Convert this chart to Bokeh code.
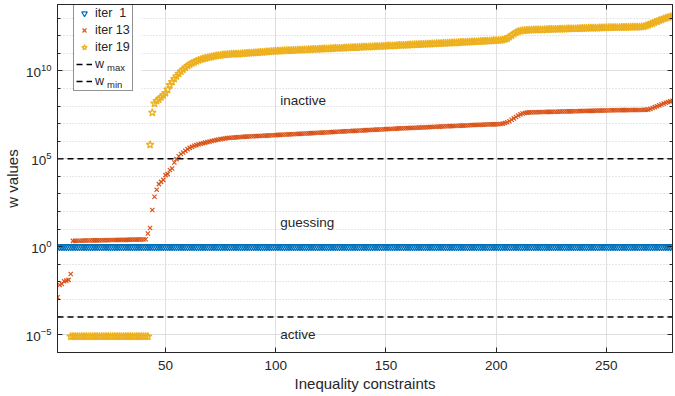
import numpy as np
from bokeh.plotting import figure
from bokeh.models import (Range1d, FixedTicker, LinearAxis, Label, BoxAnnotation,
                          Legend, LegendItem, CustomJSTickFormatter)
from bokeh.embed import file_html
from bokeh.resources import INLINE

# ---------------- data ----------------
n_constraints = 280
iter1_values = [1.0] * n_constraints

# iter 13: log10(w) for constraints 1..280
iter13_log10 = [
    -2.88, -2.18, -2.12, -1.97, -1.93, -1.89, -1.55,
    0.33, 0.33, 0.34, 0.34, 0.34, 0.35, 0.35, 0.35, 0.35, 0.36,
    0.36, 0.36, 0.36, 0.37, 0.37, 0.37, 0.37, 0.38, 0.38, 0.38,
    0.38, 0.39, 0.39, 0.39, 0.39, 0.39, 0.40, 0.40, 0.40, 0.40,
    0.41, 0.41, 0.41, 0.42,
    0.75, 1.06, 2.09, 2.84, 3.24, 3.56, 3.69, 3.80, 4.07, 4.13,
    4.36, 4.45, 4.79, 4.98, 5.15, 5.27, 5.36, 5.45, 5.55, 5.62,
    5.68, 5.74, 5.78, 5.82, 5.86, 5.89, 5.92, 5.95, 5.98, 6.01,
    6.04, 6.07, 6.09, 6.12, 6.14, 6.16, 6.18, 6.19, 6.20, 6.21,
    6.22, 6.23, 6.24,
    6.25, 6.26, 6.26, 6.27, 6.28, 6.28, 6.29, 6.30, 6.30, 6.31,
    6.32, 6.32, 6.33, 6.34, 6.34, 6.35, 6.36, 6.36, 6.37, 6.38,
    6.38, 6.39, 6.40, 6.40, 6.41, 6.42, 6.42, 6.43, 6.44, 6.44,
    6.45, 6.46, 6.46, 6.47, 6.48, 6.48, 6.49, 6.50, 6.50, 6.51,
    6.52, 6.53, 6.53, 6.54, 6.55, 6.55, 6.56, 6.57, 6.57, 6.58,
    6.59, 6.59, 6.60, 6.61, 6.61, 6.62, 6.63, 6.63, 6.64, 6.65,
    6.65, 6.66, 6.67, 6.67, 6.68, 6.69,
    6.70, 6.70, 6.71, 6.71, 6.72, 6.73, 6.73, 6.74, 6.74, 6.75,
    6.75, 6.76, 6.77, 6.77, 6.78, 6.78, 6.79, 6.79, 6.80, 6.81,
    6.81, 6.82, 6.82, 6.83, 6.84, 6.84, 6.85, 6.85, 6.86, 6.86,
    6.87, 6.88, 6.88, 6.89, 6.89, 6.90, 6.90, 6.91, 6.92, 6.92,
    6.93, 6.93, 6.94, 6.94, 6.95, 6.95, 6.96, 6.96, 6.96, 6.97,
    6.97, 6.98,
    7.00, 7.04, 7.08, 7.14, 7.22, 7.30, 7.38, 7.46, 7.53, 7.58, 7.61, 7.63,
    7.64, 7.64, 7.65, 7.65, 7.65, 7.66, 7.66, 7.66, 7.67, 7.67,
    7.67, 7.68, 7.68, 7.68, 7.69, 7.69, 7.69, 7.70, 7.70, 7.70,
    7.71, 7.71, 7.71, 7.72, 7.72, 7.72, 7.73, 7.73, 7.73, 7.73,
    7.74, 7.74, 7.74, 7.75, 7.75, 7.75, 7.75, 7.76, 7.76, 7.76,
    7.76, 7.77, 7.77, 7.77, 7.77, 7.77, 7.78, 7.78, 7.78, 7.78,
    7.78, 7.78, 7.79, 7.79,
    7.80, 7.84, 7.89, 7.94, 7.99, 8.04, 8.09, 8.14, 8.19, 8.23, 8.27, 8.30,
]

# iter 19: log10(w) for constraints 7..280
iter19_first = 7
iter19_log10 = [-5.11] * 36 + [
    5.80, 7.63, 8.15, 8.30, 8.39, 8.50, 8.62, 8.75, 8.95, 9.20,
    9.38, 9.55, 9.70, 9.84, 9.97, 10.08, 10.19, 10.29, 10.37, 10.44,
    10.50, 10.56, 10.61, 10.65, 10.69, 10.72, 10.75, 10.78, 10.81, 10.84,
    10.86, 10.88, 10.90, 10.92, 10.93, 10.94, 10.95, 10.96, 10.96, 10.97,
    10.97, 10.98,
    10.99, 11.00, 11.01, 11.02, 11.03, 11.04, 11.04, 11.05, 11.06, 11.07,
    11.08, 11.09, 11.10, 11.11, 11.12, 11.13,
    11.14, 11.14, 11.15, 11.16, 11.16, 11.17, 11.17, 11.18, 11.18, 11.19,
    11.20, 11.20, 11.21, 11.21, 11.22, 11.22, 11.23, 11.24, 11.24, 11.25,
    11.25, 11.26, 11.26, 11.27, 11.28, 11.28, 11.29, 11.29, 11.30, 11.30,
    11.31, 11.32, 11.32, 11.33, 11.33, 11.34, 11.34, 11.35, 11.36, 11.36,
    11.37, 11.37, 11.38, 11.38, 11.39, 11.40, 11.40, 11.41, 11.41, 11.42,
    11.43, 11.43, 11.44, 11.44, 11.45, 11.46, 11.46, 11.47, 11.47, 11.48,
    11.49, 11.49, 11.50, 11.50, 11.51, 11.52, 11.52, 11.53, 11.53, 11.54,
    11.55, 11.55, 11.56, 11.56, 11.57, 11.58, 11.58, 11.59, 11.59, 11.60,
    11.61, 11.61, 11.62, 11.63, 11.63, 11.64, 11.65, 11.65, 11.66, 11.67,
    11.67, 11.68, 11.69, 11.69, 11.70, 11.71, 11.71, 11.72, 11.73, 11.73,
    11.74, 11.75,
    11.77, 11.80, 11.85, 11.93, 12.02, 12.11, 12.19, 12.25, 12.28, 12.30, 12.31, 12.32,
    12.33, 12.33, 12.34, 12.34, 12.35, 12.35, 12.35, 12.36, 12.36, 12.37,
    12.37, 12.37, 12.38, 12.38, 12.39, 12.39, 12.39, 12.40, 12.40, 12.41,
    12.41, 12.41, 12.42, 12.42, 12.43, 12.43, 12.43, 12.44, 12.44, 12.45,
    12.45, 12.45, 12.46, 12.46, 12.46, 12.47, 12.47, 12.47, 12.48, 12.48,
    12.48, 12.48, 12.49, 12.49, 12.49, 12.49, 12.50, 12.50, 12.50, 12.50,
    12.50, 12.51,
    12.53, 12.57, 12.62, 12.67, 12.72, 12.77, 12.82, 12.87, 12.92, 12.97,
    13.01, 13.05, 13.08, 13.11,
]

w_max = 1e5
w_min = 1e-4

x_ticks = [50, 100, 150, 200, 250]
y_major_ticks = [1e-5, 1e0, 1e5, 1e10]
y_minor_exponents = list(range(-6, 14))

series_labels = ["iter  1", "iter 13", "iter 19"]
series_colors = ["#0072BD", "#D95319", "#EDB120"]

region_texts = ["inactive", "guessing", "active"]
region_text_x = [102, 102, 102]
region_text_y = [10 ** 8.3, 10 ** 1.36, 10 ** -5.0]

# ---------------- derived arrays ----------------
x1 = np.arange(1, len(iter1_values) + 1)
x13 = np.arange(1, len(iter13_log10) + 1)
w13 = 10.0 ** np.array(iter13_log10)
x19 = np.arange(iter19_first, iter19_first + len(iter19_log10))
w19 = 10.0 ** np.array(iter19_log10)

FONT = "Liberation Sans"
AX = "#262626"

p = figure(width=675, height=396, y_axis_type="log",
           x_range=Range1d(1, 280), y_range=Range1d(10 ** -6.02, 10 ** 13.78),
           output_backend="svg", toolbar_location=None,
           min_border_left=10, min_border_right=0, min_border_top=0,
           min_border_bottom=44)
p.background_fill_color = "white"
p.border_fill_color = "white"
p.outline_line_color = AX
p.outline_line_width = 1

yticker = FixedTicker(ticks=y_major_ticks,
                      minor_ticks=[10.0 ** k for k in y_minor_exponents])
xticker = FixedTicker(ticks=x_ticks)

p.xaxis.ticker = xticker
p.yaxis.ticker = yticker
p.xgrid.ticker = xticker
p.ygrid.ticker = yticker

for ax in (p.xaxis[0], p.yaxis[0]):
    ax.major_tick_in = 5
    ax.major_tick_out = 0
    ax.minor_tick_in = 3
    ax.minor_tick_out = 0
    ax.axis_line_color = AX
    ax.major_tick_line_color = AX
    ax.minor_tick_line_color = AX
    ax.major_label_text_font = FONT
    ax.major_label_text_font_size = "13.5px"
    ax.major_label_text_color = AX
    ax.axis_label_text_font = FONT
    ax.axis_label_text_font_size = "15px"
    ax.axis_label_text_font_style = "normal"
    ax.axis_label_text_color = AX

p.xaxis.axis_label = "Inequality constraints"
p.yaxis.axis_label = "w values"
p.xaxis.major_label_standoff = 8
p.xaxis.axis_label_standoff = 2
p.yaxis.major_label_standoff = 6
p.yaxis.axis_label_standoff = 2

# box-style frame ticks on top and right (labels blank)
blank = CustomJSTickFormatter(code="return ' ';")
top_ax = LinearAxis(ticker=xticker, formatter=blank,
                    major_label_text_font_size="1px",
                    major_label_standoff=0, major_tick_in=5, major_tick_out=0,
                    minor_tick_out=0, axis_line_color=AX, major_tick_line_color=AX)
right_ax = LinearAxis(ticker=yticker, formatter=blank,
                      major_label_text_font_size="1px",
                      major_label_standoff=0, major_tick_in=5, major_tick_out=0,
                      minor_tick_in=3, minor_tick_out=0, axis_line_color=AX,
                      major_tick_line_color=AX, minor_tick_line_color=AX)
p.add_layout(top_ax, "above")
p.add_layout(right_ax, "right")

p.xgrid.grid_line_color = "#dfdfdf"
p.ygrid.grid_line_color = "#dfdfdf"
p.ygrid.minor_grid_line_color = "#cfcfcf"
p.ygrid.minor_grid_line_dash = "1 2"

# white backdrop for the legend (legend itself is transparent so that the
# subscript labels drawn inside it stay visible)
p.add_layout(BoxAnnotation(left=16.5, right=84, bottom=261.5, top=347.5,
                           left_units="screen", right_units="screen",
                           bottom_units="screen", top_units="screen",
                           fill_color="white", fill_alpha=1, line_color=None,
                           level="underlay"))

# data
r1 = p.scatter(x1, iter1_values, marker="inverted_triangle", size=7,
               line_color=series_colors[0], fill_color=None, line_width=1.2)
r13 = p.scatter(x13, w13, marker="x", size=6, line_color=series_colors[1],
                line_width=1.2)
r19 = p.scatter(x19, w19, marker="star", size=8, line_color=series_colors[2],
                fill_color=None, line_width=1.3)

rmax = p.line(x1, [w_max] * len(x1), line_color="black",
              line_dash="6 4", line_width=1.5)
rmin = p.line(x1, [w_min] * len(x1), line_color="black",
              line_dash="6 4", line_width=1.5)

legend = Legend(items=[
    LegendItem(label=series_labels[0], renderers=[r1]),
    LegendItem(label=series_labels[1], renderers=[r13]),
    LegendItem(label=series_labels[2], renderers=[r19]),
    LegendItem(label="w", renderers=[rmax]),
    LegendItem(label="w", renderers=[rmin]),
], location=(16, 261))
legend.border_line_color = AX
legend.border_line_width = 1
legend.background_fill_alpha = 0
legend.label_text_font = FONT
legend.label_text_font_size = "12.5px"
legend.label_text_color = AX
legend.glyph_width = 16
legend.glyph_height = 14
legend.label_height = 15
legend.label_standoff = 3
legend.spacing = 2
legend.padding = 2
legend.margin = 0
p.add_layout(legend)

for t, tx, ty in zip(region_texts, region_text_x, region_text_y):
    p.add_layout(Label(x=tx, y=ty, text=t, text_baseline="middle",
                       text_font=FONT, text_font_size="13.5px", text_color=AX))

for sub, yy in (("max", 285), ("min", 268)):
    p.add_layout(Label(x=49.5, y=yy, x_units="screen", y_units="screen", text=sub,
                       text_font=FONT, text_font_size="9.5px", text_color=AX,
                       text_baseline="middle"))

open("out.html", "w").write(file_html(p, INLINE))
